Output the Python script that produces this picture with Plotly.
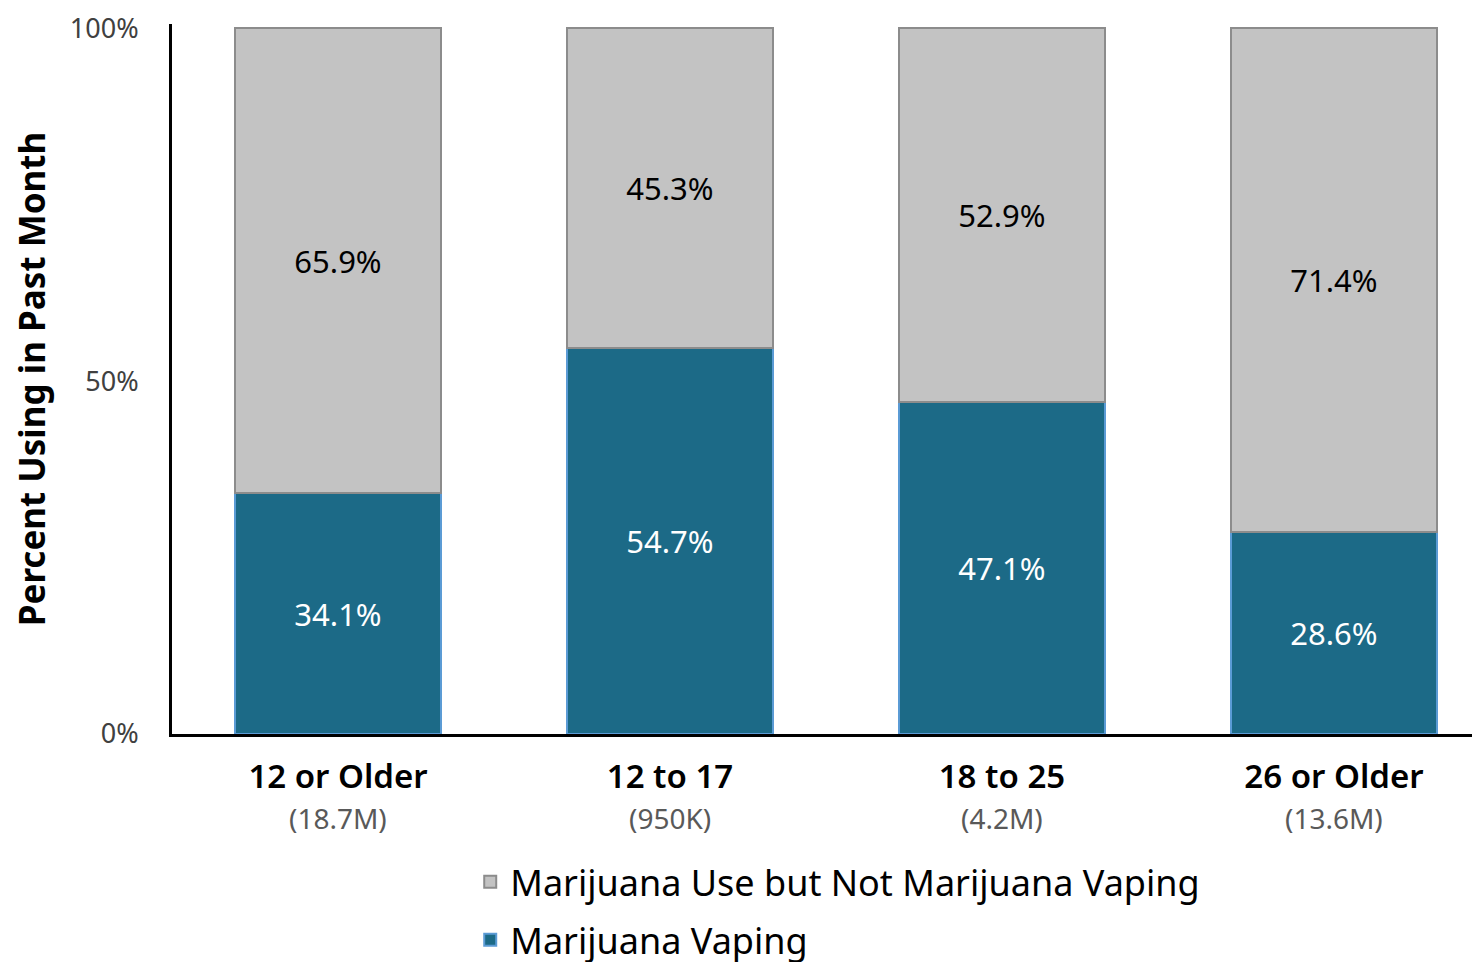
import plotly.graph_objects as go

categories = ["12 or Older", "12 to 17", "18 to 25", "26 or Older"]
populations = ["(18.7M)", "(950K)", "(4.2M)", "(13.6M)"]
vaping = [34.1, 54.7, 47.1, 28.6]
not_vaping = [65.9, 45.3, 52.9, 71.4]
y_ticks = [0, 50, 100]
y_tick_labels = ["0%", "50%", "100%"]

FONT = "Noto Sans"
TEAL = "#1C6A87"
GRAY = "#C3C3C3"

x = list(range(len(categories)))

fig = go.Figure()
fig.add_trace(go.Bar(
    x=x, y=vaping, name="Marijuana Vaping",
    legendrank=2, legendgroup="vape",
    marker=dict(color=TEAL, line=dict(color="#5B9BD5", width=2)),
    text=[f"{v:.1f}%" for v in vaping], textposition="inside",
    insidetextanchor="middle",
    textfont=dict(color="white", size=31, family=FONT),
    width=0.623,
))
fig.add_trace(go.Bar(
    x=x, y=not_vaping, name="Marijuana Use but Not Marijuana Vaping",
    legendrank=1, legendgroup="use",
    marker=dict(color=GRAY, line=dict(color="#8C8C8C", width=2)),
    text=[f"{v:.1f}%" for v in not_vaping], textposition="inside",
    insidetextanchor="middle",
    textfont=dict(color="black", size=31, family=FONT),
    width=0.623,
))

for xi, pop in zip(x, populations):
    fig.add_annotation(
        x=xi, xref="x", y=-0.119, yref="paper", yanchor="middle",
        text=pop, showarrow=False,
        font=dict(size=28, family=FONT, color="#595959"),
    )

fig.update_layout(
    width=1480, height=962,
    barmode="stack",
    plot_bgcolor="white", paper_bgcolor="white",
    margin=dict(l=164, r=8, t=16, b=236),
    font=dict(family=FONT, color="black"),
    legend=dict(
        orientation="v", traceorder="grouped",
        xref="paper", x=0.228, xanchor="left",
        yref="container", y=0.1227, yanchor="top",
        font=dict(size=36, family=FONT, color="black"),
        itemwidth=30, tracegroupgap=8,
    ),
    xaxis=dict(
        tickmode="array", tickvals=x, ticktext=categories,
        range=[-0.5, 3.44], automargin=False,
        showline=True, linecolor="black", linewidth=3,
        ticks="", showgrid=False,
        ticklabelstandoff=11,
        tickfont=dict(size=33, family=FONT, color="black", weight=600),
    ),
    yaxis=dict(
        range=[0, 100.6], automargin=False,
        tickmode="array", tickvals=y_ticks, ticktext=y_tick_labels,
        showline=True, linecolor="black", linewidth=3,
        ticks="", showgrid=False, zeroline=False,
        ticklabelstandoff=25,
        ticklabeloverflow="allow",
        tickfont=dict(size=27, family=FONT, color="#404040"),
        title=dict(text="<b>Percent Using in Past Month</b>",
                   font=dict(size=35, family=FONT, color="black"),
                   standoff=27),
    ),
)

fig.write_html("out.html")
